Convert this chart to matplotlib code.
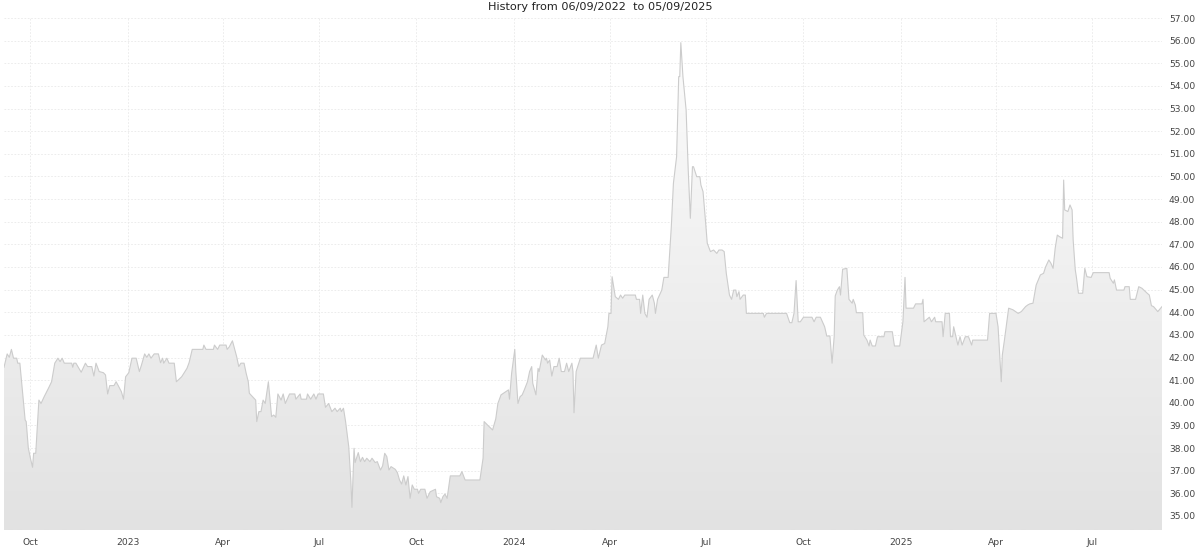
import numpy as np
import pandas as pd
import matplotlib
matplotlib.use("Agg")
import matplotlib.pyplot as plt
import matplotlib.dates as mdates
from matplotlib.colors import LinearSegmentedColormap
from matplotlib.patches import PathPatch

## price history
dates = [
    "2022-09-06", "2022-09-09", "2022-09-11", "2022-09-13", "2022-09-15", "2022-09-18", "2022-09-19",
    "2022-09-21", "2022-09-26", "2022-09-27", "2022-09-29", "2022-10-01", "2022-10-03", "2022-10-04",
    "2022-10-06", "2022-10-09", "2022-10-11", "2022-10-14", "2022-10-18", "2022-10-21", "2022-10-24",
    "2022-10-27", "2022-10-29", "2022-10-31", "2022-11-02", "2022-11-09", "2022-11-10", "2022-11-11",
    "2022-11-13", "2022-11-18", "2022-11-22", "2022-11-24", "2022-11-28", "2022-11-30", "2022-12-02",
    "2022-12-05", "2022-12-09", "2022-12-11", "2022-12-13", "2022-12-15", "2022-12-19", "2022-12-21",
    "2022-12-23", "2022-12-26", "2022-12-28", "2022-12-30", "2023-01-02", "2023-01-05", "2023-01-09",
    "2023-01-12", "2023-01-14", "2023-01-17", "2023-01-19", "2023-01-21", "2023-01-23", "2023-01-26",
    "2023-01-30", "2023-02-01", "2023-02-03", "2023-02-04", "2023-02-07", "2023-02-09", "2023-02-14",
    "2023-02-16", "2023-02-21", "2023-02-26", "2023-02-28", "2023-03-03", "2023-03-13", "2023-03-14",
    "2023-03-16", "2023-03-23", "2023-03-24", "2023-03-27", "2023-03-29", "2023-04-04", "2023-04-05",
    "2023-04-07", "2023-04-10", "2023-04-14", "2023-04-16", "2023-04-18", "2023-04-21", "2023-04-23",
    "2023-04-25", "2023-04-26", "2023-04-29", "2023-05-02", "2023-05-03", "2023-05-05", "2023-05-07",
    "2023-05-09", "2023-05-11", "2023-05-14", "2023-05-17", "2023-05-19", "2023-05-21", "2023-05-23",
    "2023-05-26", "2023-05-28", "2023-05-30", "2023-06-03", "2023-06-08", "2023-06-09", "2023-06-13",
    "2023-06-14", "2023-06-19", "2023-06-20", "2023-06-23", "2023-06-26", "2023-06-28", "2023-06-30",
    "2023-07-05", "2023-07-07", "2023-07-10", "2023-07-13", "2023-07-16", "2023-07-18", "2023-07-21",
    "2023-07-22", "2023-07-24", "2023-07-26", "2023-07-29", "2023-07-31", "2023-08-01", "2023-08-03",
    "2023-08-04", "2023-08-07", "2023-08-09", "2023-08-11", "2023-08-13", "2023-08-15", "2023-08-18",
    "2023-08-20", "2023-08-23", "2023-08-25", "2023-08-28", "2023-08-30", "2023-09-01", "2023-09-03",
    "2023-09-05", "2023-09-07", "2023-09-11", "2023-09-13", "2023-09-15", "2023-09-17", "2023-09-19",
    "2023-09-21", "2023-09-23", "2023-09-25", "2023-09-27", "2023-09-29", "2023-10-02", "2023-10-03",
    "2023-10-05", "2023-10-09", "2023-10-11", "2023-10-14", "2023-10-19", "2023-10-20", "2023-10-23",
    "2023-10-24", "2023-10-26", "2023-10-28", "2023-10-30", "2023-11-02", "2023-11-11", "2023-11-13",
    "2023-11-16", "2023-11-21", "2023-11-30", "2023-12-03", "2023-12-04", "2023-12-08", "2023-12-12",
    "2023-12-15", "2023-12-17", "2023-12-20", "2023-12-27", "2023-12-28", "2023-12-30", "2024-01-02",
    "2024-01-03", "2024-01-05", "2024-01-07", "2024-01-09", "2024-01-11", "2024-01-14", "2024-01-16",
    "2024-01-18", "2024-01-19", "2024-01-22", "2024-01-24", "2024-01-25", "2024-01-28", "2024-01-31",
    "2024-02-01", "2024-02-02", "2024-02-04", "2024-02-06", "2024-02-08", "2024-02-11", "2024-02-13",
    "2024-02-15", "2024-02-18", "2024-02-20", "2024-02-22", "2024-02-25", "2024-02-26", "2024-02-27",
    "2024-02-29", "2024-03-04", "2024-03-16", "2024-03-19", "2024-03-21", "2024-03-24", "2024-03-27",
    "2024-03-30", "2024-03-31", "2024-04-02", "2024-04-03", "2024-04-06", "2024-04-09", "2024-04-11",
    "2024-04-13", "2024-04-15", "2024-04-25", "2024-04-26", "2024-04-29", "2024-04-30", "2024-05-02",
    "2024-05-04", "2024-05-06", "2024-05-08", "2024-05-11", "2024-05-13", "2024-05-14", "2024-05-16",
    "2024-05-20", "2024-05-22", "2024-05-26", "2024-05-29", "2024-05-31", "2024-06-03", "2024-06-05",
    "2024-06-06", "2024-06-07", "2024-06-09", "2024-06-12", "2024-06-14", "2024-06-16", "2024-06-18",
    "2024-06-19", "2024-06-22", "2024-06-25", "2024-06-26", "2024-06-28", "2024-06-30", "2024-07-02",
    "2024-07-05", "2024-07-08", "2024-07-11", "2024-07-13", "2024-07-16", "2024-07-18", "2024-07-20",
    "2024-07-23", "2024-07-25", "2024-07-27", "2024-07-29", "2024-07-30", "2024-08-01", "2024-08-02",
    "2024-08-05", "2024-08-07", "2024-08-08", "2024-08-24", "2024-08-25", "2024-08-27", "2024-09-15",
    "2024-09-18", "2024-09-20", "2024-09-22", "2024-09-24", "2024-09-26", "2024-09-28", "2024-10-01",
    "2024-10-09", "2024-10-11", "2024-10-13", "2024-10-17", "2024-10-21", "2024-10-23", "2024-10-26",
    "2024-10-28", "2024-10-30", "2024-10-31", "2024-11-02", "2024-11-04", "2024-11-05", "2024-11-07",
    "2024-11-11", "2024-11-13", "2024-11-16", "2024-11-17", "2024-11-19", "2024-11-20", "2024-11-26",
    "2024-11-27", "2024-11-30", "2024-12-02", "2024-12-03", "2024-12-05", "2024-12-08", "2024-12-10",
    "2024-12-16", "2024-12-17", "2024-12-24", "2024-12-26", "2024-12-31", "2025-01-03", "2025-01-05",
    "2025-01-06", "2025-01-13", "2025-01-15", "2025-01-21", "2025-01-22", "2025-01-23", "2025-01-28",
    "2025-01-30", "2025-02-02", "2025-02-03", "2025-02-09", "2025-02-10", "2025-02-12", "2025-02-16",
    "2025-02-17", "2025-02-19", "2025-02-20", "2025-02-24", "2025-02-26", "2025-02-28", "2025-03-03",
    "2025-03-06", "2025-03-09", "2025-03-10", "2025-03-24", "2025-03-26", "2025-04-01", "2025-04-03",
    "2025-04-06", "2025-04-07", "2025-04-09", "2025-04-13", "2025-04-17", "2025-04-22", "2025-04-25",
    "2025-04-29", "2025-05-01", "2025-05-03", "2025-05-06", "2025-05-09", "2025-05-11", "2025-05-13",
    "2025-05-16", "2025-05-18", "2025-05-21", "2025-05-23", "2025-05-25", "2025-05-27", "2025-05-29",
    "2025-05-31", "2025-06-03", "2025-06-04", "2025-06-05", "2025-06-08", "2025-06-10", "2025-06-12",
    "2025-06-13", "2025-06-15", "2025-06-16", "2025-06-18", "2025-06-22", "2025-06-24", "2025-06-26",
    "2025-06-30", "2025-07-02", "2025-07-17", "2025-07-18", "2025-07-21", "2025-07-22", "2025-07-24",
    "2025-07-31", "2025-08-01", "2025-08-05", "2025-08-06", "2025-08-11", "2025-08-14", "2025-08-17",
    "2025-08-22", "2025-08-24", "2025-08-26", "2025-08-28", "2025-09-01", "2025-09-05",
]
prices = [
    41.57, 42.16, 42.01, 42.36, 41.97, 41.97, 41.75,
    41.75, 39.24, 39.17, 38.00, 37.55, 37.15, 37.77,
    37.77, 40.12, 39.97, 40.27, 40.64, 40.93, 41.75,
    41.97, 41.82, 41.97, 41.75, 41.75, 41.57, 41.75,
    41.75, 41.35, 41.75, 41.60, 41.60, 41.18, 41.75,
    41.38, 41.33, 41.23, 40.39, 40.76, 40.76, 40.93,
    40.76, 40.49, 40.16, 41.15, 41.33, 41.97, 41.97,
    41.38, 41.67, 42.16, 42.01, 42.16, 41.97, 42.16,
    42.16, 41.77, 41.97, 41.75, 41.97, 41.75, 41.75,
    40.93, 41.15, 41.52, 41.77, 42.36, 42.36, 42.55,
    42.36, 42.36, 42.55, 42.36, 42.55, 42.55, 42.36,
    42.47, 42.74, 42.04, 41.60, 41.75, 41.75, 41.30,
    40.93, 40.42, 40.27, 40.12, 39.17, 39.61, 39.61,
    40.12, 39.97, 40.93, 39.39, 39.46, 39.36, 40.39,
    40.12, 40.39, 39.97, 40.39, 40.39, 40.16, 40.39,
    40.16, 40.16, 40.39, 40.16, 40.39, 40.16, 40.39,
    40.39, 39.80, 39.97, 39.61, 39.76, 39.61, 39.76,
    39.61, 39.76, 39.17, 38.06, 36.52, 35.38, 37.99,
    37.36, 37.80, 37.40, 37.59, 37.40, 37.55, 37.40,
    37.55, 37.36, 37.40, 37.03, 37.21, 37.77, 37.62,
    37.03, 37.18, 37.06, 36.91, 36.59, 36.41, 36.77,
    36.37, 36.74, 35.78, 36.37, 36.18, 36.18, 36.00,
    36.18, 36.18, 35.78, 36.07, 36.18, 35.85, 35.78,
    35.59, 35.85, 35.97, 35.78, 36.77, 36.77, 36.96,
    36.59, 36.59, 36.59, 37.55, 39.17, 38.98, 38.80,
    39.29, 39.97, 40.35, 40.57, 40.16, 41.30, 42.36,
    41.38, 39.97, 40.27, 40.35, 40.57, 40.93, 41.38,
    41.60, 40.86, 40.35, 41.52, 41.38, 42.11, 41.89,
    41.97, 41.75, 41.89, 41.18, 41.60, 41.60, 41.97,
    41.38, 41.38, 41.75, 41.38, 41.75, 41.38, 39.56,
    41.38, 41.97, 41.97, 42.55, 41.97, 42.55, 42.62,
    43.36, 43.95, 43.95, 45.57, 44.69, 44.57, 44.76,
    44.62, 44.76, 44.76, 44.57, 44.57, 43.95, 44.76,
    43.95, 43.78, 44.57, 44.76, 44.40, 43.95, 44.57,
    44.98, 45.54, 45.54, 47.78, 49.70, 50.87, 54.41,
    54.41, 55.91, 54.41, 52.94, 50.29, 48.15, 50.43,
    50.43, 49.99, 49.99, 49.62, 49.33, 48.22, 47.05,
    46.68, 46.75, 46.60, 46.75, 46.75, 46.68, 45.72,
    44.76, 44.57, 44.98, 44.98, 44.69, 44.91, 44.57,
    44.76, 44.76, 43.95, 43.95, 43.78, 43.95, 43.95,
    43.54, 43.54, 43.95, 45.40, 43.58, 43.58, 43.78,
    43.78, 43.58, 43.78, 43.78, 43.36, 42.95, 42.95,
    41.75, 42.92, 44.72, 44.98, 45.13, 44.76, 45.90,
    45.94, 44.57, 44.40, 44.57, 44.32, 43.98, 43.98,
    42.99, 42.77, 42.51, 42.77, 42.51, 42.51, 42.92,
    42.92, 43.14, 43.14, 42.51, 42.51, 43.58, 45.54,
    44.18, 44.18, 44.37, 44.37, 44.57, 43.58, 43.78,
    43.58, 43.78, 43.58, 43.58, 42.92, 43.95, 43.95,
    42.92, 42.92, 43.36, 42.55, 42.92, 42.55, 42.92,
    42.92, 42.55, 42.77, 42.77, 43.95, 43.95, 43.36,
    40.93, 42.11, 42.77, 44.18, 44.11, 43.95, 44.03,
    44.25, 44.32, 44.37, 44.40, 45.20, 45.43, 45.65,
    45.72, 46.01, 46.31, 46.16, 45.94, 46.83, 47.41,
    47.34, 47.27, 49.84, 48.52, 48.45, 48.74, 48.52,
    47.19, 45.87, 45.57, 44.84, 44.84, 45.94, 45.57,
    45.54, 45.75, 45.75, 45.50, 45.28, 45.43, 44.98,
    44.98, 45.13, 45.13, 44.57, 44.57, 45.13, 45.06,
    44.84, 44.76, 44.29, 44.25, 44.03, 44.25,
]

start_date = "2022-09-06"
end_date = "2025-09-05"
y_ticks = list(range(35, 58))
y_min, y_max = 34.38, 57.0

df = pd.DataFrame({"date": pd.to_datetime(dates), "price": prices})
x = mdates.date2num(df["date"])

fig = plt.figure(figsize=(12, 5.5), dpi=100)
ax = fig.add_axes([4 / 1200, 20 / 550, 1158 / 1200, 512 / 550])

x0 = mdates.date2num(pd.Timestamp(start_date))
x1 = mdates.date2num(pd.Timestamp(end_date))

## grey gradient under the line
cmap = LinearSegmentedColormap.from_list("fade", ["#e2e2e2", "#fdfdfd"])
grad = np.linspace(0, 1, 256).reshape(-1, 1)
im = ax.imshow(grad, extent=[x0, x1, y_min, y_max], origin="lower", aspect="auto",
               cmap=cmap, zorder=1, interpolation="bilinear")
poly = ax.fill_between(x, df["price"], y_min, color="none", lw=0)
clip = PathPatch(poly.get_paths()[0], transform=ax.transData, facecolor="none", edgecolor="none")
ax.add_patch(clip)
im.set_clip_path(clip)

ax.plot(x, df["price"], color="#cccccc", lw=0.8, zorder=3)

ax.set_xlim(x0, x1)
ax.set_ylim(y_min, y_max)

## quarterly date ticks, year shown for January
qticks = pd.date_range("2022-10-01", "2025-07-01", freq="QS")
xt = mdates.date2num(qticks)
xl = [str(d.year) if d.month == 1 else d.strftime("%b") for d in qticks]
ax.set_xticks(xt)
ax.set_xticklabels(xl)
ax.set_yticks(y_ticks)
ax.set_yticklabels(["%.2f" % v for v in y_ticks])
ax.yaxis.tick_right()
ax.tick_params(axis="both", length=0, labelsize=6.6, labelcolor="#444444")
ax.tick_params(axis="y", pad=5)
ax.tick_params(axis="x", pad=6)

ax.grid(True, color="#e9e9e9", linestyle=(0, (2, 2)), linewidth=0.6, zorder=0)
ax.set_axisbelow(True)
for s in ax.spines.values():
    s.set_visible(False)

fig.text(0.5, 1 - 7 / 550, "History from 06/09/2022  to 05/09/2025", ha="center", va="center",
         fontsize=8.1, color="#222222")

fig.savefig("out.png", dpi=100)
